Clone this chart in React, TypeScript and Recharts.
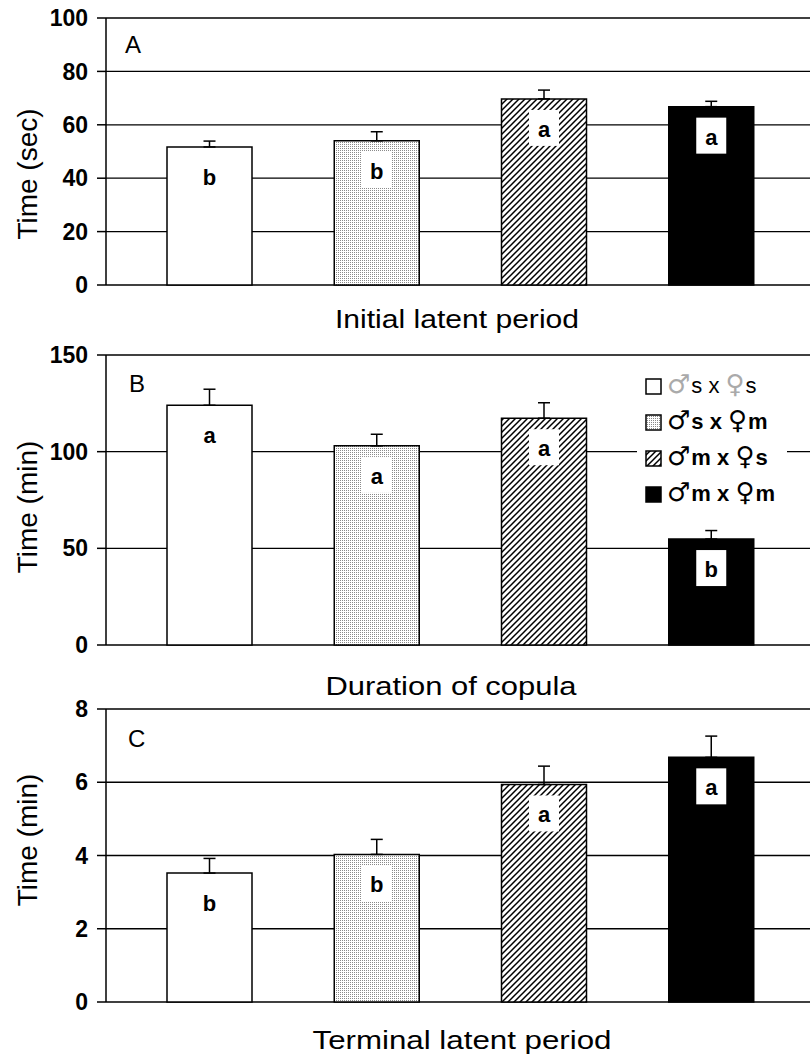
import React from 'react';
import { BarChart, Bar, XAxis, YAxis, CartesianGrid, Cell, ErrorBar, LabelList } from 'recharts';

const FONT = '"Liberation Sans", Arial, "DejaVu Sans", sans-serif';

// ─── Data ──────────────────────────────────────────────────
const groups = ['♂s x ♀s', '♂s x ♀m', '♂m x ♀s', '♂m x ♀m'];

const initialLatent = [51.7, 54.0, 69.7, 66.8];
const initialLatentErr = [2.2, 3.4, 3.3, 2.0];
const initialLatentLetters = ['b', 'b', 'a', 'a'];

const copula = [124.0, 103.0, 117.3, 54.8];
const copulaErr = [8.3, 6.0, 8.0, 4.4];
const copulaLetters = ['a', 'a', 'a', 'b'];

const terminal = [3.52, 4.03, 5.94, 6.68];
const terminalErr = [0.4, 0.41, 0.5, 0.58];
const terminalLetters = ['b', 'b', 'a', 'a'];

const ticksA = [0, 20, 40, 60, 80, 100];
const ticksB = [0, 50, 100, 150];
const ticksC = [0, 2, 4, 6, 8];

const fills = ['#ffffff', 'url(#stipple)', 'url(#hatch)', '#000000'];

function rows(values: number[], errs: number[], letters: string[]) {
  return groups.map((g, i) => ({
    group: g,
    value: values[i],
    err: [0, errs[i]],
    letter: letters[i],
  }));
}

// ─── Letter inside bar ─────────────────────────────────────
function LetterLabel(props: any) {
  const x = props.x ?? props.viewBox?.x;
  const y = props.y ?? props.viewBox?.y;
  const width = props.width ?? props.viewBox?.width;
  const cx = x + width / 2;
  return (
    <g>
      <rect x={cx - 15} y={y + 11} width={30} height={36} fill="#fff" />
      <text
        x={cx}
        y={y + 38}
        textAnchor="middle"
        fontFamily={FONT}
        fontWeight="bold"
        fontSize={22}
        fill="#000"
      >
        {props.value}
      </text>
    </g>
  );
}

function Panel({
  top,
  height,
  marginTop,
  data,
  ticks,
}: {
  top: number;
  height: number;
  marginTop: number;
  data: any[];
  ticks: number[];
}) {
  return (
    <div style={{ position: 'absolute', left: 0, top }}>
      <BarChart
        width={810}
        height={height}
        data={data}
        margin={{ top: marginTop, right: 0, bottom: 15, left: 0 }}
      >
        <CartesianGrid vertical={false} stroke="#000" strokeWidth={1.3} />
        <XAxis
          dataKey="group"
          tick={false}
          tickLine={false}
          height={0}
          axisLine={{ stroke: '#000', strokeWidth: 1.5 }}
          padding={{ left: 20, right: 15 }}
        />
        <YAxis
          width={106}
          domain={[ticks[0], ticks[ticks.length - 1]]}
          ticks={ticks}
          interval={0}
          tickSize={9}
          tickMargin={9}
          axisLine={{ stroke: '#000', strokeWidth: 1.5 }}
          tickLine={{ stroke: '#000', strokeWidth: 1.5 }}
          tick={{ fill: '#000', fontSize: 23, fontWeight: 'bold', fontFamily: FONT }}
        />
        <Bar dataKey="value" barSize={85} stroke="#000" strokeWidth={1.5} isAnimationActive={false}>
          {data.map((d, i) => (
            <Cell key={d.group} fill={fills[i]} />
          ))}
          <ErrorBar dataKey="err" width={6} stroke="#000" strokeWidth={1.5} direction="y" />
          <LabelList dataKey="letter" content={<LetterLabel />} />
        </Bar>
      </BarChart>
    </div>
  );
}

function LegendIcon({ fill }: { fill: string }) {
  return (
    <svg width={17} height={17} style={{ marginRight: 5, flexShrink: 0 }}>
      <rect x={1} y={1} width={15} height={15} fill={fill} stroke="#000" strokeWidth={1.5} />
    </svg>
  );
}

function Legend() {
  return (
    <div
      style={{
        position: 'absolute',
        left: 637,
        top: 368,
        width: 150,
        padding: '0 0 0 8px',
        boxSizing: 'border-box',
        background: '#fff',
        fontFamily: FONT,
        fontSize: 22,
        zIndex: 2,
      }}
    >
      {groups.map((g, i) => (
        <div key={g} style={{ display: 'flex', alignItems: 'center', height: 36 }}>
          <LegendIcon fill={fills[i]} />
          <span style={{ fontWeight: i === 0 ? 'normal' : 'bold', whiteSpace: 'pre' }}>
            {g.split('').map((ch, k) =>
              ch === '♂' || ch === '♀' ? (
                <span
                  key={k}
                  style={{
                    color: i === 0 ? '#aaa' : '#000',
                    fontFamily: '"DejaVu Sans", sans-serif',
                    fontWeight: 'normal',
                    fontSize: 26,
                    lineHeight: '22px',
                    marginRight: 1,
                  }}
                >
                  {ch}
                </span>
              ) : (
                <span key={k}>{ch}</span>
              )
            )}
          </span>
        </div>
      ))}
    </div>
  );
}

export default function App() {
  const dataA = rows(initialLatent, initialLatentErr, initialLatentLetters);
  const dataB = rows(copula, copulaErr, copulaLetters);
  const dataC = rows(terminal, terminalErr, terminalLetters);

  return (
    <div
      style={{
        position: 'absolute',
        left: 0,
        top: 0,
        width: 810,
        height: 1059,
        background: '#fff',
        overflow: 'hidden',
      }}
    >
      <svg width={0} height={0} style={{ position: 'absolute' }}>
        <defs>
          <pattern id="stipple" patternUnits="userSpaceOnUse" width={2} height={2}>
            <rect width={2} height={2} fill="#fff" />
            <rect width={1} height={1} fill="#8a8a8a" />
          </pattern>
          <pattern id="hatch" patternUnits="userSpaceOnUse" width={6} height={6}>
            <rect width={6} height={6} fill="#fff" />
            <path d="M0,6 L6,0 M-1,1 L1,-1 M5,7 L7,5" stroke="#000" strokeWidth={1.5} />
          </pattern>
        </defs>
      </svg>

      <Panel top={0} height={300} marginTop={18} data={dataA} ticks={ticksA} />
      <Panel top={340} height={320} marginTop={15} data={dataB} ticks={ticksB} />
      <Panel top={694} height={323} marginTop={15} data={dataC} ticks={ticksC} />

      <Legend />

      {/* Static texts: panel letters, axis titles */}
      <svg
        width={810}
        height={1059}
        style={{ position: 'absolute', left: 0, top: 0, pointerEvents: 'none', zIndex: 1 }}
        fontFamily={FONT}
      >
        <text x={125} y={53} fontSize={24}>A</text>
        <text x={129} y={392} fontSize={24}>B</text>
        <text x={128} y={747} fontSize={24}>C</text>

        <text x={37} y={174} fontSize={28} textAnchor="middle" transform="rotate(-90 37 174)">
          Time (sec)
        </text>
        <text x={37} y={507} fontSize={28} textAnchor="middle" transform="rotate(-90 37 507)">
          Time (min)
        </text>
        <text x={37} y={840} fontSize={28} textAnchor="middle" transform="rotate(-90 37 840)">
          Time (min)
        </text>

        <text x={457} y={328} fontSize={25} textAnchor="middle" textLength={244} lengthAdjust="spacingAndGlyphs">
          Initial latent period
        </text>
        <text x={451} y={695} fontSize={25} textAnchor="middle" textLength={251} lengthAdjust="spacingAndGlyphs">
          Duration of copula
        </text>
        <text x={462} y={1049} fontSize={25} textAnchor="middle" textLength={299} lengthAdjust="spacingAndGlyphs">
          Terminal latent period
        </text>
      </svg>
    </div>
  );
}
